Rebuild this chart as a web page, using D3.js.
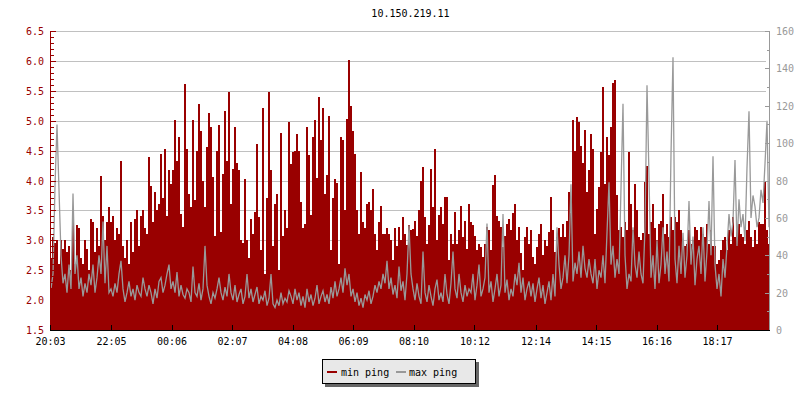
<!DOCTYPE html>
<html>
<head>
<meta charset="utf-8">
<script src="https://cdn.jsdelivr.net/npm/d3@7"></script>
<style>
  html, body { margin: 0; padding: 0; background: #fff; }
  svg { display: block; }
  text { font-family: "DejaVu Sans Mono", monospace; font-size: 10px; }
</style>
</head>
<body>
<svg id="chart" width="800" height="400"></svg>
<script>
// ---------------- DATA ----------------
const title = "10.150.219.11";
const tickLabels = ["20:03","22:05","00:06","02:07","04:08","06:09","08:10","10:12","12:14","14:15","16:16","18:17"];
const startLabel = "20:03";
const stepMinutes = 4;       // one sample every 4 minutes
const spanMinutes = 1438;    // visible time span
const seriesNames = ["min ping", "max ping"];

// min ping (left axis)
const minPing = [
2.7,3.05,2.95,3.0,2.6,3.0,2.85,3.0,2.8,2.9,2.5,3.3,2.6,3.25,3.2,2.7,2.6,3.0,2.85,2.5,3.35,3.3,2.8,3.2,2.9,4.08,3.4,3.0,3.3,3.55,
3.3,3.4,3.0,3.2,3.1,4.33,2.9,2.7,3.0,2.6,3.3,2.8,3.35,3.5,2.9,3.4,3.5,3.2,3.1,4.39,3.9,3.3,3.8,3.5,3.6,4.44,3.7,4.53,3.4,4.17,
3.94,4.17,5.01,4.33,4.72,3.44,3.22,5.62,4.52,3.78,3.56,5.01,3.67,4.5,5.28,4.83,4.0,3.56,4.56,5.13,4.89,4.06,3.08,4.5,4.92,3.14,4.11,5.17,4.33,5.48,
3.61,4.2,4.9,4.3,4.17,3.0,2.95,4.03,3.0,2.7,3.35,3.1,3.47,4.61,3.39,2.83,5.22,2.44,3.7,5.48,4.17,2.9,3.6,3.78,2.5,4.8,3.08,3.5,3.2,4.97,
4.28,4.47,4.5,4.77,4.5,3.64,3.2,3.28,4.89,4.42,3.42,4.72,5.01,4.05,5.39,4.68,5.21,3.78,4.1,5.08,2.83,3.7,4.03,3.95,2.61,4.72,4.67,3.5,5.03,6.02,
5.25,4.83,4.45,3.5,3.1,4.14,3.3,3.2,3.6,3.64,3.5,3.86,3.1,2.83,3.3,3.58,3.1,3.11,3.2,3.11,3.0,2.67,3.2,2.9,3.22,3.0,3.39,3.1,2.92,3.25,
3.17,3.19,3.33,3.08,3.5,4.0,4.23,3.39,2.94,3.25,4.19,3.56,4.53,3.0,3.42,3.56,3.28,3.72,3.72,2.67,3.11,2.94,3.47,2.94,3.17,3.57,3.06,3.33,2.86,3.61,
3.31,3.25,3.08,2.83,2.94,2.89,2.72,2.94,3.22,3.17,2.83,3.92,4.1,3.4,3.33,3.22,2.89,3.08,3.28,3.36,3.17,3.45,3.6,3.0,3.22,2.78,2.5,3.06,3.22,2.94,
3.18,2.72,2.6,2.89,3.1,3.27,2.75,3.0,2.9,3.14,3.72,3.17,2.8,3.06,3.2,3.06,3.28,3.06,3.33,3.81,3.45,5.01,4.5,5.07,4.97,4.58,4.3,4.84,3.8,4.18,
4.77,4.53,3.1,3.53,3.89,4.47,5.57,3.94,4.72,4.42,4.89,5.63,5.68,3.75,3.17,3.22,3.06,3.3,3.17,4.48,3.61,3.17,3.94,3.5,3.06,3.0,3.12,3.97,4.25,3.1,
3.3,3.6,3.2,3.0,3.28,3.33,3.78,3.1,3.28,3.06,3.39,3.17,3.39,3.3,3.5,3.17,3.0,2.9,2.94,3.17,2.94,3.0,3.22,3.17,3.0,3.22,3.11,3.06,3.28,2.94,
3.17,2.9,2.9,2.6,2.67,2.83,3.0,3.06,2.83,3.17,2.94,3.39,3.06,3.17,3.28,3.11,3.06,2.94,3.17,3.33,3.06,2.89,3.17,2.94,3.3,3.28,3.28,3.97,3.17,2.94
];

// max ping (right axis)
const maxPing = [
22,30,77,110,75,40,25,30,20,35,22,73,30,40,22,28,18,25,20,30,24,35,20,28,40,30,58,25,45,20,
22,18,25,20,30,37,22,15,20,26,18,22,16,24,20,18,28,22,18,24,20,14,22,17,26,28,20,24,30,35,
22,26,20,31,18,24,19,17,22,20,15,34,20,18,25,16,22,45,24,18,14,20,17,22,28,20,16,23,18,30,
20,16,24,15,19,22,14,18,30,17,22,15,19,23,14,18,16,21,13,17,30,14,12,16,13,20,14,17,15,21,
18,14,22,16,20,13,18,12,22,15,19,13,17,24,14,18,21,15,19,14,23,17,26,18,22,28,20,33,24,30,
18,22,15,20,13,17,12,19,16,21,14,18,24,20,26,22,30,25,37,22,28,19,24,17,34,21,26,16,30,56,
30,22,16,25,18,14,42,20,15,24,18,13,22,27,16,20,15,30,19,14,25,42,22,17,30,20,15,24,18,22,
20,30,16,24,35,18,22,28,57,20,26,15,22,30,18,24,62,20,27,16,22,18,30,24,36,20,28,16,22,26,
18,25,15,22,28,17,24,14,20,26,16,30,18,55,35,22,28,40,25,40,78,26,36,30,42,28,45,33,28,38,
30,25,38,22,32,28,40,25,52,79,35,45,28,38,30,76,121,40,22,30,26,55,35,28,42,30,25,55,131,82,
28,40,22,48,25,35,55,30,42,26,94,146,38,25,45,30,52,28,40,69,35,50,24,38,45,30,55,26,42,69,
40,93,35,22,30,18,38,28,45,62,50,58,91,45,70,55,62,48,87,117,60,72,66,55,60,75,68,89,112,55
];

const leftDomain = [1.5, 6.5];
const rightDomain = [0, 160];

// ---------------- LAYOUT ----------------
const red = "#990000", grey = "#999999";
const L = 50, R = 769, T = 31, B = 330;

const svg = d3.select("#chart");

function parseHM(s) {
  const [h, m] = s.split(":").map(Number);
  return { h, m };
}
const s0 = parseHM(startLabel);
const start = new Date(Date.UTC(2020, 0, 1, s0.h, s0.m));
const end = d3.utcMinute.offset(start, spanMinutes);
const tickDates = tickLabels.map(lbl => {
  const { h, m } = parseHM(lbl);
  let d = new Date(Date.UTC(2020, 0, 1, h, m));
  if (d < start) d = d3.utcDay.offset(d, 1);
  return d;
});
const times = minPing.map((_, i) => d3.utcMinute.offset(start, i * stepMinutes));

const x = d3.scaleUtc().domain([start, end]).range([L, R]);
const yL = d3.scaleLinear().domain(leftDomain).range([B, T]);
const yR = d3.scaleLinear().domain(rightDomain).range([B, T]);

// Title
svg.append("text").attr("x", (L + R) / 2 + 1).attr("y", 17)
  .attr("text-anchor", "middle").attr("fill", "#000").text(title);

// Grid
const gGrid = svg.append("g").attr("shape-rendering", "crispEdges");
gGrid.selectAll("line").data(yL.ticks(10)).join("line")
  .attr("x1", L).attr("x2", R - 3)
  .attr("y1", d => Math.round(yL(d)) + 0.5).attr("y2", d => Math.round(yL(d)) + 0.5)
  .attr("stroke", "#c0c0c0").attr("stroke-width", 1);

// min ping bars (area)
svg.append("g").attr("shape-rendering", "crispEdges")
  .selectAll("rect").data(minPing).join("rect")
  .attr("x", (d, i) => x(times[i]))
  .attr("width", (d, i) => x(d3.utcMinute.offset(times[i], stepMinutes)) - x(times[i]))
  .attr("y", d => Math.round(yL(d)))
  .attr("height", d => B - Math.round(yL(d)))
  .attr("fill", red);

// max ping line
const halfStep = stepMinutes / 2;
const linePts = maxPing.map((v, i) => [d3.utcMinute.offset(times[i], halfStep), v]);
const line = d3.line()
  .x(d => x(d[0]))
  .y(d => yR(d[1]))
  .curve(d3.curveLinear);
svg.append("path").datum(linePts)
  .attr("d", line).attr("fill", "none")
  .attr("stroke", grey).attr("stroke-width", 1.3)
  .attr("stroke-linejoin", "miter");

// Left axis
const gL = svg.append("g").attr("shape-rendering", "crispEdges");
gL.append("line").attr("x1", L + 0.5).attr("x2", L + 0.5).attr("y1", T).attr("y2", B)
  .attr("stroke", red);
gL.selectAll(".minor").data(yL.ticks(50)).join("line").attr("class", "minor")
  .attr("x1", L).attr("x2", L + 4)
  .attr("y1", d => Math.round(yL(d)) + 0.5).attr("y2", d => Math.round(yL(d)) + 0.5)
  .attr("stroke", red);
gL.selectAll(".major").data(yL.ticks(10)).join("line").attr("class", "major")
  .attr("x1", L).attr("x2", L + 6)
  .attr("y1", d => Math.round(yL(d)) + 0.5).attr("y2", d => Math.round(yL(d)) + 0.5)
  .attr("stroke", red);
svg.append("g").selectAll("text").data(yL.ticks(10)).join("text")
  .attr("x", 44).attr("y", d => yL(d) + 4)
  .attr("text-anchor", "end").attr("fill", red)
  .text(d3.format(".1f"));

// Right axis
const gR = svg.append("g").attr("shape-rendering", "crispEdges");
gR.append("line").attr("x1", R + 0.5).attr("x2", R + 0.5).attr("y1", T).attr("y2", B)
  .attr("stroke", grey);
gR.selectAll(".minor").data(yR.ticks(16)).join("line").attr("class", "minor")
  .attr("x1", R - 2).attr("x2", R + 1)
  .attr("y1", d => Math.round(yR(d)) + 0.5).attr("y2", d => Math.round(yR(d)) + 0.5)
  .attr("stroke", grey);
gR.selectAll(".major").data(yR.ticks(8)).join("line").attr("class", "major")
  .attr("x1", R - 4).attr("x2", R + 1)
  .attr("y1", d => Math.round(yR(d)) + 0.5).attr("y2", d => Math.round(yR(d)) + 0.5)
  .attr("stroke", grey);
svg.append("g").selectAll("text").data(yR.ticks(8)).join("text")
  .attr("x", 776).attr("y", d => yR(d) + 4)
  .attr("text-anchor", "start").attr("fill", grey)
  .text(d => d);

// Bottom axis
const gB = svg.append("g").attr("shape-rendering", "crispEdges");
gB.append("line").attr("x1", L).attr("x2", R + 1).attr("y1", B + 0.5).attr("y2", B + 0.5)
  .attr("stroke", "#000");
gB.selectAll(".tick").data(tickDates).join("line").attr("class", "tick")
  .attr("x1", d => Math.round(x(d)) + 0.5).attr("x2", d => Math.round(x(d)) + 0.5)
  .attr("y1", B - 5).attr("y2", B)
  .attr("stroke", "#000");
svg.append("g").selectAll("text").data(tickDates).join("text")
  .attr("x", d => x(d) + 0.5).attr("y", 345)
  .attr("text-anchor", "middle").attr("fill", "#000")
  .text((d, i) => tickLabels[i]);

// Legend
const lg = svg.append("g").attr("shape-rendering", "crispEdges");
lg.append("rect").attr("x", 325).attr("y", 362).attr("width", 154).attr("height", 25).attr("fill", "#666");
lg.append("rect").attr("x", 322.5).attr("y", 359.5).attr("width", 153).attr("height", 24)
  .attr("fill", "#e8e8e8").attr("stroke", "#000").attr("stroke-width", 1);
const legendItems = [
  { name: seriesNames[0], color: red, sx: 327, tx: 341 },
  { name: seriesNames[1], color: grey, sx: 396, tx: 409 }
];
legendItems.forEach(it => {
  lg.append("rect").attr("x", it.sx).attr("y", 371).attr("width", 10).attr("height", 2).attr("fill", it.color);
  svg.append("text").attr("x", it.tx).attr("y", 375.5).attr("fill", "#000").text(it.name);
});
</script>
</body>
</html>
